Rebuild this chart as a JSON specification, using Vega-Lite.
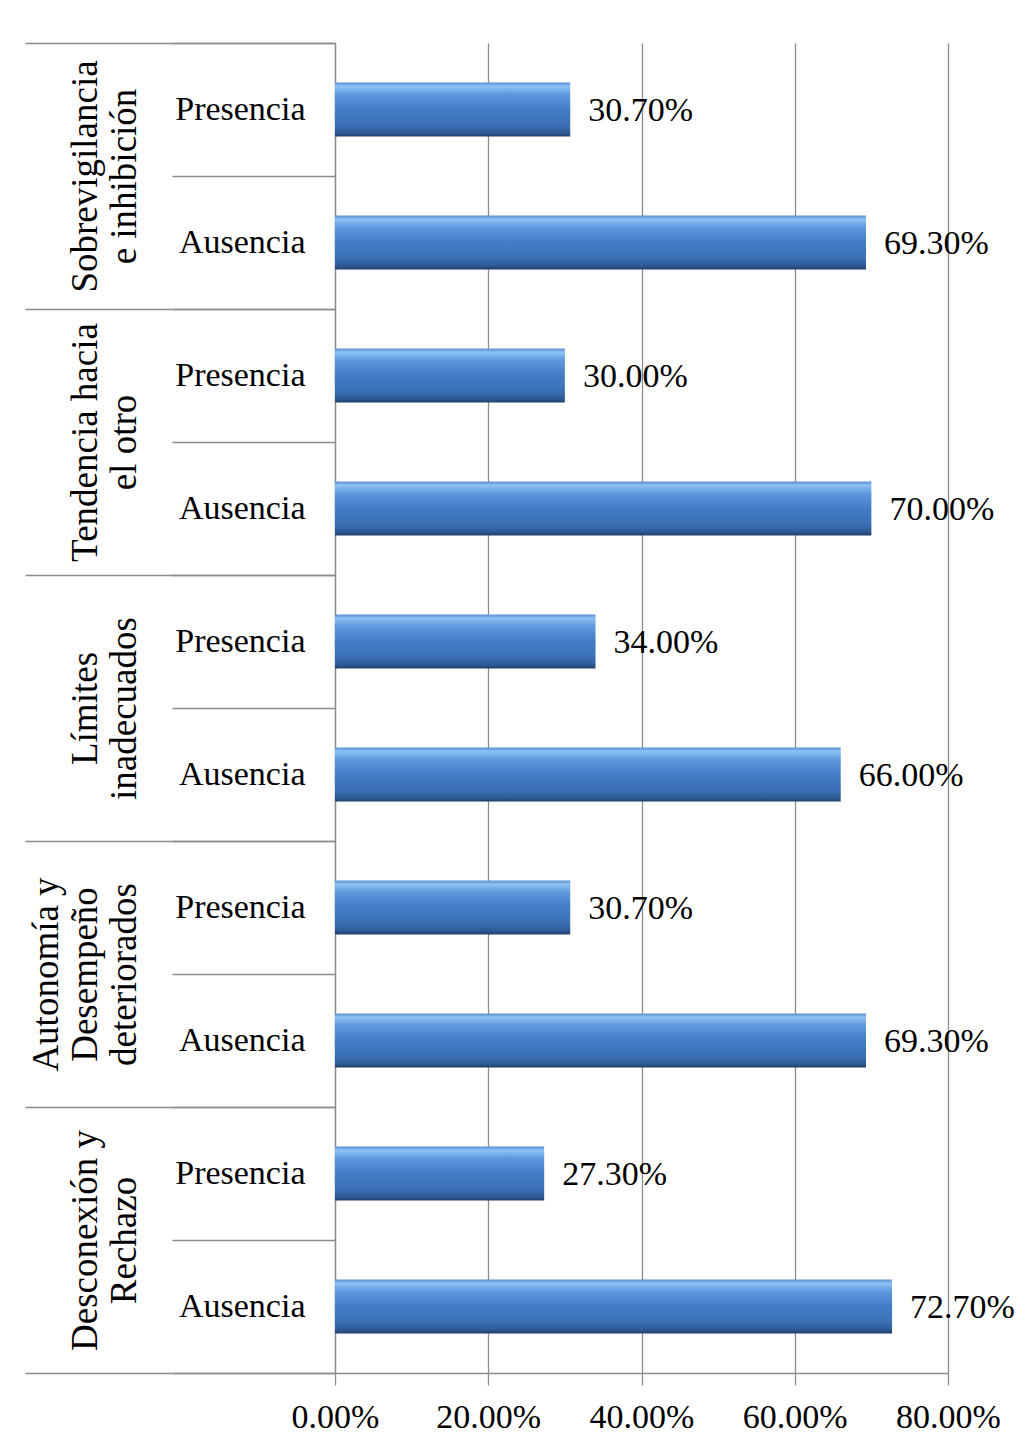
{
  "$schema": "https://vega.github.io/schema/vega-lite/v6.json",
  "width": 613,
  "height": 1330,
  "autosize": {"type": "none"},
  "padding": {"left": 335, "top": 43, "right": 84, "bottom": 79},
  "background": "white",
  "config": {
    "view": {"stroke": null},
    "font": "Liberation Serif",
    "axis": {"labelFont": "Liberation Serif", "labelFontSize": 34, "labelColor": "#000000", "titleFont": "Liberation Serif"}
  },
  "data": {
    "values": [
      {"group": "Sobrevigilancia|e inhibición", "item": "1 Presencia", "value": 0.307},
      {"group": "Sobrevigilancia|e inhibición", "item": "1 Ausencia", "value": 0.693},
      {"group": "Tendencia hacia|el otro", "item": "2 Presencia", "value": 0.300},
      {"group": "Tendencia hacia|el otro", "item": "2 Ausencia", "value": 0.700},
      {"group": "Límites|inadecuados", "item": "3 Presencia", "value": 0.340},
      {"group": "Límites|inadecuados", "item": "3 Ausencia", "value": 0.660},
      {"group": "Autonomía y|Desempeño|deteriorados", "item": "4 Presencia", "value": 0.307},
      {"group": "Autonomía y|Desempeño|deteriorados", "item": "4 Ausencia", "value": 0.693},
      {"group": "Desconexión y|Rechazo", "item": "5 Presencia", "value": 0.273},
      {"group": "Desconexión y|Rechazo", "item": "5 Ausencia", "value": 0.727}
    ]
  },
  "layer": [
    {
      "encoding": {
        "y": {
          "field": "item",
          "type": "nominal",
          "sort": null,
          "scale": {"paddingInner": 0, "paddingOuter": 0},
          "axis": {
            "title": null,
            "orient": "left",
            "offset": 0,
            "domain": true,
            "domainColor": "#8c8c8c",
            "domainWidth": 1.3,
            "ticks": true,
            "tickBand": "extent",
            "tickSize": 163,
            "tickColor": "#8c8c8c",
            "tickWidth": 1.3,
            "labelPadding": -133,
            "labelAlign": "right",
            "labelBaseline": "middle",
            "labelLimit": 0,
            "labelOverlap": false,
            "labelExpr": "substring(datum.label, 2)"
          }
        },
        "x": {
          "field": "value",
          "type": "quantitative",
          "scale": {"domain": [0, 0.8]},
          "axis": {
            "title": null,
            "values": [0, 0.2, 0.4, 0.6, 0.8],
            "format": ".2%",
            "grid": true,
            "gridColor": "#8c8c8c",
            "gridWidth": 1.3,
            "domain": true,
            "domainColor": "#8c8c8c",
            "domainWidth": 1.3,
            "tickColor": "#8c8c8c",
            "tickWidth": 1.3,
            "tickSize": 12,
            "labelPadding": 15,
            "labelFlush": false,
            "labelOverlap": false
          }
        }
      },
      "layer": [
        {
          "mark": {
            "type": "bar",
            "height": {"band": 0.405},
            "color": {
              "gradient": "linear",
              "x1": 0, "y1": 0, "x2": 0, "y2": 1,
              "stops": [
                {"offset": 0, "color": "#5b8fd2"},
                {"offset": 0.07, "color": "#8cc2f4"},
                {"offset": 0.22, "color": "#5f98de"},
                {"offset": 0.5, "color": "#437cc6"},
                {"offset": 0.8, "color": "#3a6fb4"},
                {"offset": 0.93, "color": "#2d5a95"},
                {"offset": 1, "color": "#223f6a"}
              ]
            }
          }
        },
        {
          "mark": {"type": "text", "align": "left", "baseline": "middle", "dx": 18, "dy": 1, "fontSize": 34, "font": "Liberation Serif", "color": "#000000"},
          "encoding": {"text": {"field": "value", "type": "quantitative", "format": ".2%"}}
        }
      ]
    },
    {
      "mark": {"type": "point", "opacity": 0},
      "encoding": {
        "y": {
          "field": "group",
          "type": "nominal",
          "sort": null,
          "scale": {"paddingInner": 0, "paddingOuter": 0},
          "axis": {
            "title": null,
            "orient": "left",
            "offset": 0,
            "domain": false,
            "ticks": true,
            "tickBand": "extent",
            "tickSize": 310,
            "tickColor": "#8c8c8c",
            "tickWidth": 1.3,
            "labelAngle": -90,
            "labelAlign": "center",
            "labelBaseline": "bottom",
            "labelPadding": -40,
            "labelFontSize": 37,
            "labelLineHeight": 39,
            "labelLimit": 0,
            "labelOverlap": false,
            "labelExpr": "length(split(datum.label, '|')) == 3 ? split(datum.label, '|') : ['', split(datum.label, '|')[0], split(datum.label, '|')[1]]"
          }
        }
      }
    }
  ],
  "resolve": {"scale": {"y": "independent"}, "axis": {"y": "independent"}}
}
